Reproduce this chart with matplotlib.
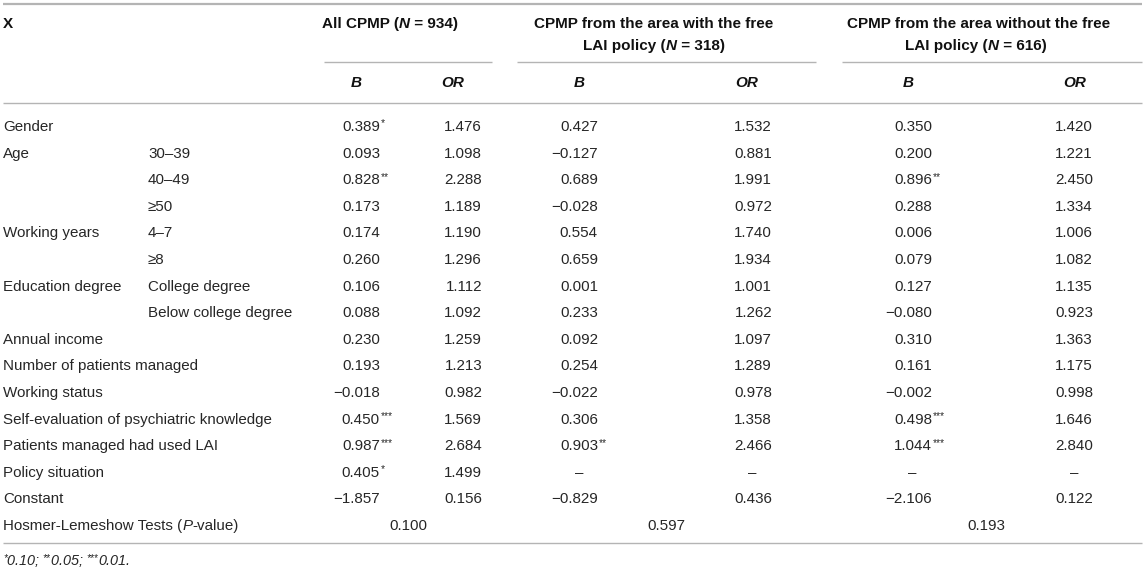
import matplotlib
matplotlib.use("Agg")
import matplotlib.pyplot as plt

# ---------------- data ----------------
labels_main = ["Gender", "Age", "", "", "Working years", "", "Education degree", "",
               "Annual income", "Number of patients managed", "Working status",
               "Self-evaluation of psychiatric knowledge", "Patients managed had used LAI",
               "Policy situation", "Constant"]
labels_sub = ["", "30–39", "40–49", "≥50", "4–7", "≥8", "College degree",
              "Below college degree", "", "", "", "", "", "", ""]

b_all = ["0.389", "0.093", "0.828", "0.173", "0.174", "0.260", "0.106", "0.088",
         "0.230", "0.193", "−0.018", "0.450", "0.987", "0.405", "−1.857"]
sig_all = ["*", "", "**", "", "", "", "", "", "", "", "", "***", "***", "*", ""]
or_all = ["1.476", "1.098", "2.288", "1.189", "1.190", "1.296", "1.112", "1.092",
          "1.259", "1.213", "0.982", "1.569", "2.684", "1.499", "0.156"]

b_with = ["0.427", "−0.127", "0.689", "−0.028", "0.554", "0.659", "0.001", "0.233",
          "0.092", "0.254", "−0.022", "0.306", "0.903", "–", "−0.829"]
sig_with = ["", "", "", "", "", "", "", "", "", "", "", "", "**", "", ""]
or_with = ["1.532", "0.881", "1.991", "0.972", "1.740", "1.934", "1.001", "1.262",
           "1.097", "1.289", "0.978", "1.358", "2.466", "–", "0.436"]

b_without = ["0.350", "0.200", "0.896", "0.288", "0.006", "0.079", "0.127", "−0.080",
             "0.310", "0.161", "−0.002", "0.498", "1.044", "–", "−2.106"]
sig_without = ["", "", "**", "", "", "", "", "", "", "", "", "***", "***", "", ""]
or_without = ["1.420", "1.221", "2.450", "1.334", "1.006", "1.082", "1.135", "0.923",
              "1.363", "1.175", "0.998", "1.646", "2.840", "–", "0.122"]

hosmer_label = "Hosmer-Lemeshow Tests ("
hosmer_vals = ["0.100", "0.597", "0.193"]

# ---------------- layout ----------------
W, H = 1145, 571
FONT = "Liberation Sans"
FS = 10.9
HFS = 11.0
TXT = "#262626"
HDR = "#111111"
LINE = "#b4b4b4"

fig = plt.figure(figsize=(W / 100, H / 100), dpi=100)
ax = fig.add_axes([0, 0, 1, 1])
ax.set_xlim(0, W)
ax.set_ylim(H, 0)
ax.axis("off")
renderer = fig.canvas.get_renderer()


def text_width(s, **kw):
    t1 = ax.text(0, 0, "a" + s + "a", **kw)
    t2 = ax.text(0, 0, "aa", **kw)
    w = t1.get_window_extent(renderer).width - t2.get_window_extent(renderer).width
    t1.remove(); t2.remove()
    return w


def draw_runs(x, y, parts, ha="left"):
    # parts: list of (string, kwargs) ; kwargs may contain 'dy'
    items = []
    for s, kw in parts:
        kw = dict(kw)
        dy = kw.pop("dy", 0)
        base = dict(family=FONT, fontsize=FS, color=TXT)
        base.update(kw)
        items.append((s, dy, base, text_width(s, **base)))
    total = sum(i[3] for i in items)
    if ha == "center":
        cx = x - total / 2
    elif ha == "right":
        cx = x - total
    else:
        cx = x
    for s, dy, base, w in items:
        ax.text(cx, y + dy, s, ha="left", va="baseline", **base)
        cx += w


def hline(y, x0, x1, lw):
    ax.plot([x0, x1], [y, y], color=LINE, lw=lw, solid_capstyle="butt")


BASE = 5  # baseline offset from row centre
bold = dict(weight="bold", color=HDR, fontsize=HFS)
bolditalic = dict(weight="bold", style="italic", color=HDR, fontsize=HFS)

# rules
hline(4, 3, 1142, 1.6)
hline(62, 324, 492, 1.0)
hline(62, 517, 816, 1.0)
hline(62, 842, 1142, 1.0)
hline(103, 3, 1142, 1.0)
hline(543, 3, 1142, 1.0)

# header
draw_runs(3, 23 + BASE, [("X", bold)])
draw_runs(390, 23 + BASE, [("All CPMP (", bold), ("N", bolditalic), (" = 934)", bold)], ha="center")
draw_runs(654, 23 + BASE, [("CPMP from the area with the free", bold)], ha="center")
draw_runs(654, 45 + BASE, [("LAI policy (", bold), ("N", bolditalic), (" = 318)", bold)], ha="center")
draw_runs(979, 23 + BASE, [("CPMP from the area without the free", bold)], ha="center")
draw_runs(976, 45 + BASE, [("LAI policy (", bold), ("N", bolditalic), (" = 616)", bold)], ha="center")

sub_centres = [356, 453, 579, 747, 908, 1075]
sub_names = ["B", "OR", "B", "OR", "B", "OR"]
for cxh, nm in zip(sub_centres, sub_names):
    draw_runs(cxh, 82 + BASE, [(nm, bolditalic)], ha="center")

# body
row0, dyrow = 126, 26.6
right_edges = [380, 482, 598, 772, 932, 1093]
dash_centres = [361, 462, 579, 752, 912, 1074]
columns = [(b_all, sig_all), (or_all, None), (b_with, sig_with), (or_with, None),
           (b_without, sig_without), (or_without, None)]
sup = dict(fontsize=7.4, dy=-4.5)

for i in range(len(labels_main)):
    y = row0 + i * dyrow + BASE
    if labels_main[i]:
        draw_runs(3, y, [(labels_main[i], {})])
    if labels_sub[i]:
        draw_runs(148, y, [(labels_sub[i], {})])
    for (vals, sigs), rx, dc in zip(columns, right_edges, dash_centres):
        v = vals[i]
        if v == "–":
            draw_runs(dc, y, [(v, {})], ha="center")
            continue
        draw_runs(rx, y, [(v, {})], ha="right")
        if sigs is not None and sigs[i]:
            draw_runs(rx + 0.5, y, [(sigs[i], sup)])

# Hosmer-Lemeshow row
yh = row0 + len(labels_main) * dyrow + BASE
draw_runs(3, yh, [(hosmer_label, {}), ("P", dict(style="italic")), ("-value)", {})])
for cx, v in zip([408, 666, 986], hosmer_vals):
    draw_runs(cx, yh, [(v, {})], ha="center")

# footnote
it = dict(style="italic", fontsize=10.4)
itsup = dict(style="italic", fontsize=7.2, dy=-4)
draw_runs(3, 560 + BASE, [("*", itsup), ("0.10; ", it), ("**", itsup), ("0.05; ", it),
                          ("***", itsup), ("0.01.", it)])

fig.savefig("out.png", dpi=100, facecolor="white")
